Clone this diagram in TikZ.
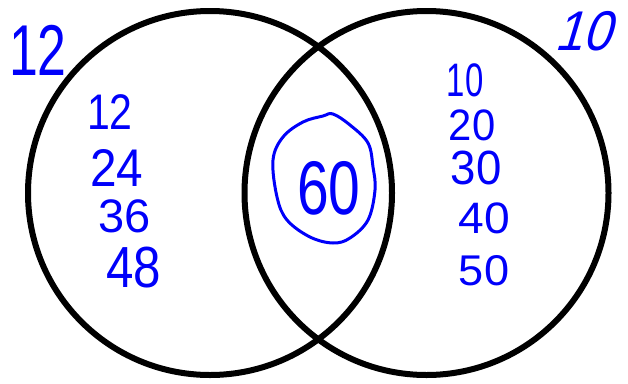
\documentclass[tikz,border=0pt]{standalone}
\usepackage{fontspec}
\setmainfont{Liberation Sans}
\definecolor{hand}{RGB}{0,0,250}
\begin{document}
\begin{tikzpicture}[x=1pt,y=-1pt,
  venn/.style={circle, draw=black, line width=6pt, minimum size=364pt, inner sep=0pt},
  hw/.style={text=hand, inner sep=0pt, font=\fontsize{#1}{#1}\selectfont},
  hw/.default=50]
\useasboundingbox (0,0) rectangle (628,383);
\fill[white] (0,0) rectangle (628,383);
% sets
\node[venn] (L) at (210,193) {};
\node[venn] (R) at (426.5,193) {};
% set labels
\node[hw=72, xscale=0.72, transform shape] (l12) at (38,50) {12};
\node[hw=56, xslant=0.3, xscale=0.9, transform shape] (l10) at (588,31) {10};
% left only
\node[hw=50, xscale=0.82, transform shape] (a12) at (110,112) {12};
\node[hw=53, xscale=0.9, transform shape] (a24) at (117,168) {24};
\node[hw=47, xscale=1.0, transform shape] (a36) at (125,216) {36};
\node[hw=58, xscale=0.85, transform shape] (a48) at (134,268) {48};
% right only
\node[hw=47, xscale=0.7, transform shape] (b10) at (465,80) {10};
\node[hw=44, xscale=0.95, transform shape] (b20) at (472,125) {20};
\node[hw=48, xscale=0.95, transform shape] (b30) at (476,168) {30};
\node[hw=44, xscale=1.05, transform shape] (b40) at (484,218) {40};
\node[hw=43, xscale=1.05, transform shape] (b50) at (484,271) {50};
% intersection
\node[hw=76, xscale=0.75, transform shape] (c60) at (329,188) {60};
\draw[hand, line width=3pt, line join=round]
  plot[smooth cycle, tension=0.6] coordinates {
   (333,114) (350,125) (368,143) (373,167) (375,190) (368,220) (350,238)
   (333,243) (310,237) (287,220) (277,197) (273,160) (283,137) (303,122) (323,116)};
\end{tikzpicture}
\end{document}
